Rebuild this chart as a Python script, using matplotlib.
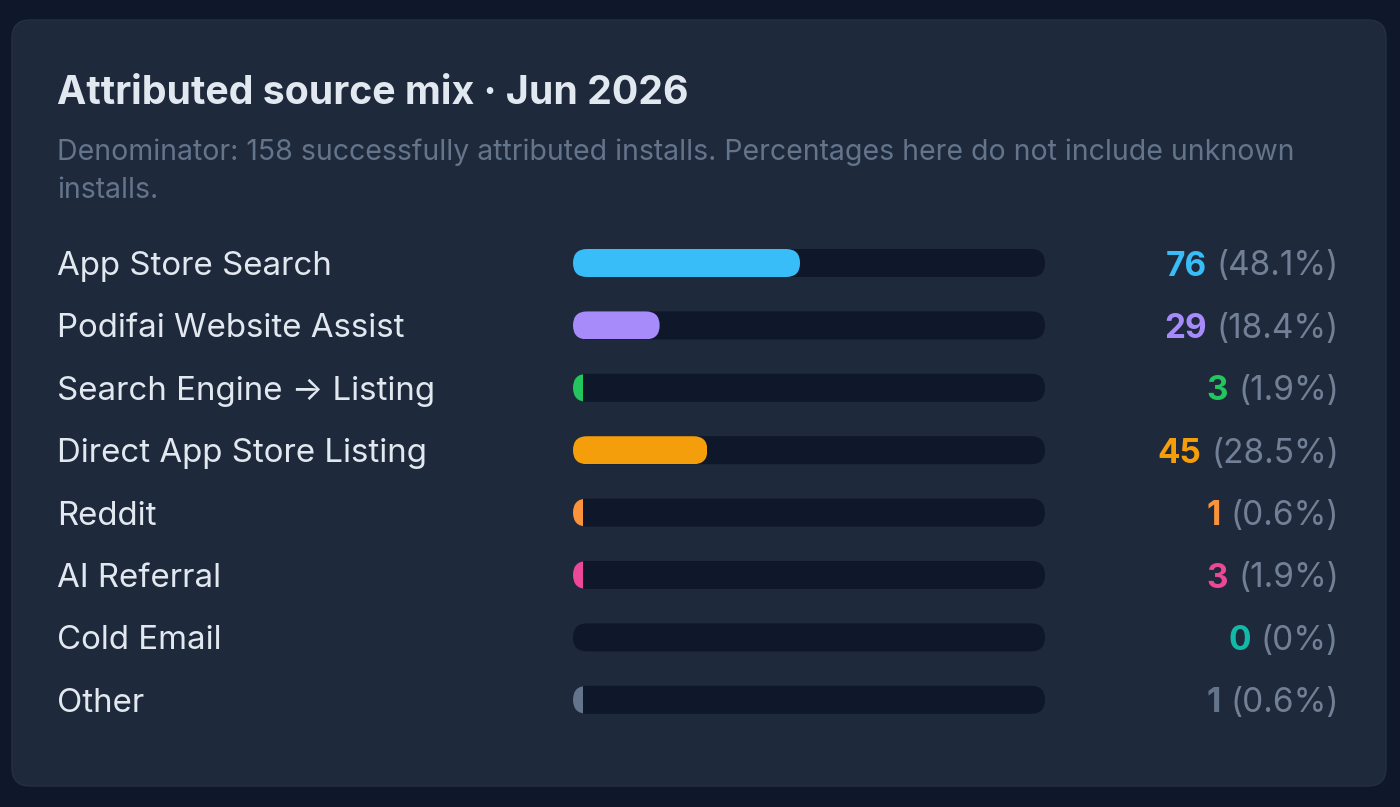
import matplotlib
matplotlib.use("Agg")
import matplotlib.pyplot as plt
from matplotlib.patches import FancyBboxPatch, Rectangle
from matplotlib.transforms import blended_transform_factory, IdentityTransform

plt.rcParams['font.family'] = ['Inter', 'DejaVu Sans']

# data
sources = ['App Store Search', 'Podifai Website Assist', 'Search Engine \u2192 Listing',
           'Direct App Store Listing', 'Reddit', 'AI Referral', 'Cold Email', 'Other']
installs = [76, 29, 3, 45, 1, 3, 0, 1]
colors = ['#38bdf8', '#a78bfa', '#22c55e', '#f59e0b', '#fb923c', '#ec4899', '#14b8a6', '#64748b']
title = 'Attributed source mix \u00b7 Jun 2026'
subtitle = ('Denominator: 158 successfully attributed installs. Percentages here do not include unknown\n'
            'installs.')
total = sum(installs)

W, H = 1400, 807
fig = plt.figure(figsize=(W / 100, H / 100), dpi=100)
fig.patch.set_facecolor('#0f172a')

# background axes in pixel units (y down)
bg = fig.add_axes([0, 0, 1, 1])
bg.set_xlim(0, W)
bg.set_ylim(H, 0)
bg.axis('off')
bg.add_patch(FancyBboxPatch((12, 20), 1374, 766, boxstyle='round,pad=0,rounding_size=18',
                            facecolor='#1e293b', edgecolor='#243044', lw=1))

bg.text(57, 90, title, fontsize=28.3, fontweight='bold', color='#e2e8f0',
        va='center_baseline', ha='left')
bg.text(57, 149, subtitle.split('\n')[0], fontsize=20.5, color='#64748b', va='center_baseline', ha='left')
bg.text(57, 188, subtitle.split('\n')[1], fontsize=20.5, color='#64748b', va='center_baseline', ha='left')

# bar axes: rows 0..7
row0, step = 263, 62.4
track_x0, track_x1 = 573, 1045
top = row0 - step / 2
bottom = row0 + step * (len(sources) - 0.5)
ax = fig.add_axes([track_x0 / W, 1 - bottom / H, (track_x1 - track_x0) / W, (bottom - top) / H])
ax.set_xlim(0, total)
ax.set_ylim(len(sources) - 0.5, -0.5)
ax.axis('off')

px_x = total / (track_x1 - track_x0)
px_y = 1 / step
bar_h = 28 * px_y
r = 14 * px_x
aspect = px_y / px_x
min_w = 10 * px_x

trans = blended_transform_factory(bg.transData, ax.transData)
trans_px = blended_transform_factory(IdentityTransform(), ax.transData)
renderer = fig.canvas.get_renderer()

for i, (name, v, c) in enumerate(zip(sources, installs, colors)):
    track = FancyBboxPatch((0, i - bar_h / 2), total, bar_h,
                           boxstyle=f'round,pad=0,rounding_size={r}', mutation_aspect=aspect,
                           facecolor='#0f172a', edgecolor='none')
    ax.add_patch(track)
    if v > 0:
        shown = max(v, min_w)
        fill = FancyBboxPatch((0, i - bar_h / 2), max(shown, 2 * r), bar_h,
                              boxstyle=f'round,pad=0,rounding_size={r}', mutation_aspect=aspect,
                              facecolor=c, edgecolor='none')
        ax.add_patch(fill)
        clip = Rectangle((0, i - bar_h / 2), shown, bar_h, transform=ax.transData)
        fill.set_clip_path(clip)

    ax.text(57, i, name, transform=trans, fontsize=23.8, color='#e2e8f0',
            va='center_baseline', ha='left')

    pct = v / total * 100
    pct_s = '(0%)' if v == 0 else f'({pct:.1f}%)'
    t = ax.text(1339, i, pct_s, transform=trans, fontsize=24, color='#718096',
                va='center_baseline', ha='right')
    bb = t.get_window_extent(renderer=renderer)
    ax.text(bb.x0 - 10, i, str(v), transform=trans_px, fontsize=24, fontweight='bold', color=c,
            va='center_baseline', ha='right')

fig.savefig('out.png', dpi=100, facecolor=fig.get_facecolor())
